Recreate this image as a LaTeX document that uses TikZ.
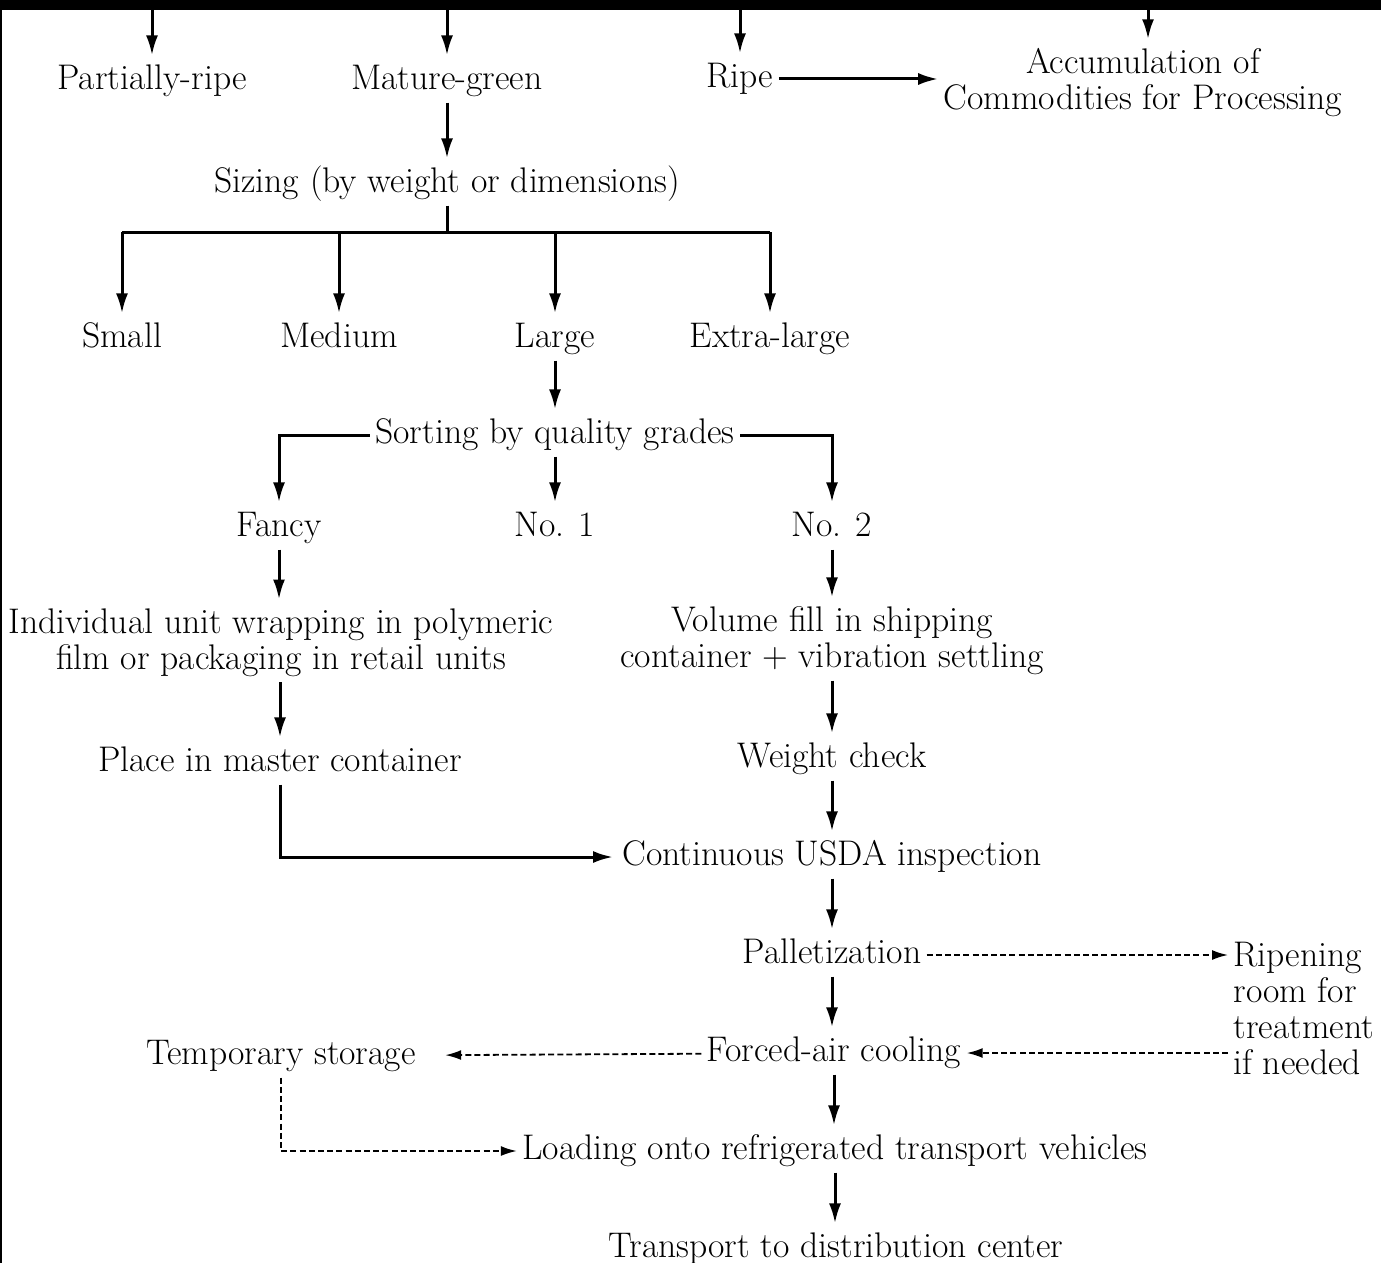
\documentclass[tikz,border=0pt]{standalone}
\usepackage{tikz}
\usetikzlibrary{arrows.meta}

\begin{document}
\begin{tikzpicture}[x=.5pt,y=-.5pt,line width=1.5pt,
    every node/.style={font=\fontsize{17.8}{18}\selectfont,inner sep=2pt,text height=12.3pt,text depth=3.8pt},
    twoline/.style={align=center,text height=,text depth=},
    arr/.style={-{Latex[length=10pt,width=6pt]},shorten >=2pt},
    dsh/.style={line width=.9pt,dash pattern=on 3pt off 1.6pt,-{Latex[length=8pt,width=5pt]}}]
  \useasboundingbox (0,0) rectangle (1381,1263);
  \fill (0,0) rectangle (1381,10); \fill (0,0) rectangle (2,1263);
  % harvest stages
  \coordinate (in1) at (152,10); \coordinate (in2) at (447,10); \coordinate (in3) at (740,10); \coordinate (in4) at (1148,10);
  \node (pr) at (152,81) {Partially-ripe}; \node (mg) at (447,81) {Mature-green}; \node (ri) at (740,79) {Ripe};
  \node[twoline] (acc) at (1143,83) {Accumulation of\\Commodities for Processing};
  \draw[arr] (in1) -- (pr); \draw[arr] (in2) -- (mg); \draw[arr] (in3) -- (ri); \draw[arr] (in4) -- (in4 |- acc.north);
  \draw[arr,shorten >=0pt] (ri) -- (acc.west |- ri);
  % sizing
  \node (siz) at (447,184) {Sizing (by weight or dimensions)}; \draw[arr] (mg) -- (siz);
  \node (sm) at (122,339) {Small}; \node (med) at (339,339) {Medium}; \node (lg) at (555,339) {Large}; \node (xl) at (770,339) {Extra-large};
  \coordinate (bus) at (447,232);
  \draw (siz) -- (bus); \draw (sm |- bus) -- (xl |- bus);
  \foreach \s in {sm,med,lg,xl} \draw[arr] (\s |- bus) -- (\s);
  % grading
  \node (sort) at (555,435) {Sorting by quality grades}; \draw[arr] (lg) -- (sort);
  \node (fan) at (279,528) {Fancy}; \node (no1) at (555,528) {No. 1}; \node (no2) at (832,528) {No. 2};
  \draw[arr] (sort.west) -| (fan); \draw[arr] (sort) -- (no1); \draw[arr] (sort.east) -| (no2);
  \node[twoline] (wrap) at (281,643) {Individual unit wrapping in polymeric\\film or packaging in retail units};
  \node[twoline] (vol) at (832,641) {Volume fill in shipping\\container + vibration settling};
  \draw[arr] (fan) -- (fan |- wrap.north); \draw[arr] (no2) -- (vol);
  \node (place) at (280,763) {Place in master container}; \node (wt) at (832,759) {Weight check};
  \draw[arr] (place |- wrap.south) -- (place); \draw[arr] (vol) -- (wt);
  \node (usda) at (832,857) {Continuous USDA inspection};
  \draw[arr] (wt) -- (usda); \draw[arr] (place) |- (usda);
  % handling and shipping
  \node (pal) at (832,955) {Palletization}; \draw[arr] (usda) -- (pal);
  \node[twoline,align=left,anchor=west] (ripen) at (1228,1008) {Ripening\\room for\\treatment\\if needed};
  \node (forc) at (834,1053) {Forced-air cooling}; \node (temp) at (281,1056) {Temporary storage};
  \draw[dsh] (pal) -- (ripen.west |- pal); \draw[arr] (pal) -- (pal |- forc.north);
  \draw[dsh] (ripen.west |- forc) -- (forc); \draw[dsh,shorten >=12pt] (forc) -- (temp);
  \node (load) at (835,1151) {Loading onto refrigerated transport vehicles};
  \draw[arr] (forc) -- (forc |- load.north); \draw[dsh] (temp) |- (load);
  \node (trans) at (836,1249) {Transport to distribution center}; \draw[arr] (load) -- (load |- trans.north);
\end{tikzpicture}
\end{document}
